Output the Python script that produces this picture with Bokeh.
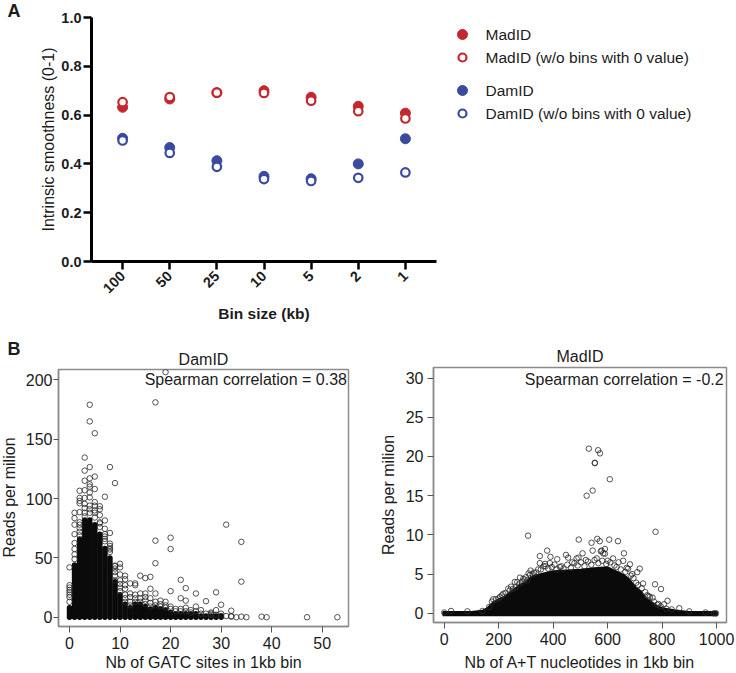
from math import pi
from bokeh.embed import file_html
from bokeh.resources import INLINE
from bokeh.layouts import column, row
from bokeh.models import FactorRange, FixedTicker, Label, Range1d, Title
from bokeh.core.properties import value
from bokeh.plotting import figure

FONT = "Liberation Sans"

# Panel A
bins = ["100", "50", "25", "10", "5", "2", "1"]
madid = [0.632, 0.666, 0.692, 0.700, 0.673, 0.636, 0.608]
madid_nz = [0.653, 0.674, 0.692, 0.691, 0.659, 0.616, 0.586]
damid = [0.505, 0.467, 0.413, 0.349, 0.339, 0.400, 0.503]
damid_nz = [0.496, 0.445, 0.388, 0.338, 0.330, 0.343, 0.365]
RED, BLUE = "#c4282e", "#3a4a9f"

# Panel B: dense columns (column, top of the solid part)
dam_col = list(range(0, 31))
dam_top = [8, 44, 66, 82, 82, 78, 70, 58, 50, 30, 19, 11, 8, 11, 11, 9, 7, 8, 7, 6,
           4, 3, 3, 3, 3, 3, 1, 1, 1, 1, 1]
# Panel B: individually readable points
dam_x = [19, 4, 4, 5, 17, 3, 3, 4, 5, 4, 3, 8, 9, 7, 4, 4, 5, 2, 3, 4, 2, 2, 3, 4, 2, 3, 4, 5, 5, 6,
         1, 1, 1, 1, 1, 1, 1, 1, 2, 2, 2, 6, 6, 6, 6, 7, 7, 7, 7, 8, 8, 8, 8, 0, 0, 0, 0, 0, 0, 0, 0,
         9, 10, 10, 11, 11, 10, 9, 9, 9, 12, 13, 13, 14, 15, 16, 16, 17, 17, 20, 20, 20, 31, 34, 34,
         22, 23, 25, 22, 23, 27, 29, 30, 32, 32, 33, 34, 35, 38, 39, 47, 53, 29,
         2, 2, 2, 3, 3, 3, 4, 4, 5, 5, 5, 6, 7, 7, 8, 8, 9, 9, 10, 10, 10, 10, 11, 11, 11, 11, 11,
         12, 12, 12, 12, 13, 13, 13, 14, 14, 14, 15, 15, 15, 15, 16, 16, 16, 17, 17, 17, 18, 18, 18,
         19, 19, 19, 20, 20, 21, 21, 22, 22, 23, 23, 24, 24, 25, 25, 26, 26, 27, 28, 28, 28, 29, 30, 30, 31, 32]
dam_y = [206.5, 179, 165, 155, 181, 134.5, 123.5, 126.5, 118.5, 117, 115, 126.5, 113, 101.5, 112,
         110, 108, 106.5, 107, 105, 100.5, 98, 100.5, 101, 96, 95.5, 94, 97, 94, 93.5,
         88, 83.5, 78, 70, 62.5, 57.5, 53, 49, 88.5, 80, 75, 91, 86, 79, 76, 81.5, 74.5, 70, 66, 71,
         60, 57, 55, 42, 27, 25, 23, 21, 19, 17, 13, 43.5, 45, 42, 35, 32, 36, 35, 31, 43, 28.5, 28.5, 27,
         35, 33, 34, 24, 45.5, 64.5, 67, 57.5, 22, 78, 63.5, 30, 31.5, 24.5, 20, 16, 14, 13.5, 21, 10.5,
         5.5, 0.5, 0, 0.5, 0, 0.5, 0, 0, 0, 2,
         72, 69, 78, 88, 85, 92, 88, 91, 88, 84, 90, 80, 64, 68, 62, 58, 38, 41, 22, 25, 28, 31, 13, 16, 19, 24, 27,
         10, 13, 17, 20, 13, 16, 19, 13, 16, 20, 11, 14, 17, 20, 9, 12, 16, 10, 13, 20, 9, 11, 14,
         8, 10, 13, 7, 9, 5, 7, 5, 7, 5, 8, 4, 6, 5, 9, 3, 6, 3, 2, 3, 4, 6, 3, 1, 1, 1]

# Panel C: envelope of the solid mass
mad_ex = [-6, 100, 140, 160, 180, 200, 220, 250, 280, 300, 320, 350, 400, 450, 500, 550, 600,
          630, 660, 680, 700, 720, 740, 760, 780, 800, 850, 900, 1004]
mad_ey = [0.1, 0.1, 0.25, 0.6, 1.3, 1.7, 2.0, 2.8, 3.6, 3.9, 4.6, 4.9, 5.3, 5.4, 5.5, 5.7, 5.8,
          5.3, 4.8, 4.2, 3.3, 2.8, 1.8, 1.4, 0.9, 0.6, 0.3, 0.1, 0.1]
# Panel C: individually readable points
mad_x = [531, 565, 572, 553, 553, 608, 545, 523, 308, 776, 494, 562, 571, 606, 638, 541, 378, 351,
         390, 415, 447, 455, 508, 486, 493, 545, 578, 590, 584, 660, 657, 682, 718, 709, 774, 796,
         820, 786, 807, 863, 278, 259, 317, 180, 200, 351, 370, 388, 235, 217, 330, 345, 365, 405,
         430, 470, 520, 560, 600, 620, 640, 670, 690, 730, 750, 765, 245, 268, 290, 300, 310,
         0, 25, 85, 140, 990, 998, 900, 960, 575, 590,
         165, 175, 190, 205, 212, 225, 240, 252, 262, 275, 285, 295, 305, 315, 325, 338, 355, 372, 382,
         395, 412, 425, 438, 452, 465, 478, 490, 502, 515, 528, 540, 552, 566, 580, 595, 610, 625, 633,
         648, 665, 675, 685, 695, 705, 712, 725, 738, 745, 755, 770, 782, 795, 815, 835]
mad_y = [21, 20.8, 20.4, 19.15, 19.2, 17.1, 15.65, 15, 9.9, 10.4, 9.4, 9.5, 9.2, 9.4, 9.2, 9, 8, 7.3,
         7.2, 6.9, 7.45, 7.1, 7.65, 7, 7.1, 8, 8, 8.2, 7.65, 7.65, 6.7, 6.25, 5.7, 5.25, 3.7, 3.1,
         1.6, 1.2, 1.15, 0.65, 4.55, 4, 5.45, 1.8, 1.9, 6.4, 6.3, 6.4, 3.15, 2.5, 5.2, 5.6, 6.0, 6.2,
         6.0, 6.5, 6.8, 7.0, 6.7, 7.0, 6.5, 5.8, 5.0, 3.8, 2.2, 2.0, 3.4, 4.0, 4.4, 4.6, 5.1,
         0.1, 0.3, 0.25, 0.3, 0, 0, 0.25, 0.1, 7.9, 7.6,
         0.8, 1.5, 1.8, 2.1, 2.3, 2.6, 2.9, 3.1, 3.3, 3.7, 4.0, 4.3, 4.2, 4.9, 5.0, 5.2, 5.6, 6.0, 5.7,
         5.9, 5.6, 5.9, 5.7, 6.2, 5.8, 6.4, 6.1, 6.5, 6.0, 6.6, 6.2, 6.8, 6.4, 6.7, 6.3, 6.5, 6.1, 5.9,
         5.6, 5.3, 5.7, 4.8, 4.5, 3.9, 3.6, 3.2, 2.7, 2.3, 2.1, 1.5, 1.1, 0.9, 0.6, 0.5]

# Legend texts
legend_labels = ["MadID", "MadID (w/o bins with 0 value)", "DamID", "DamID (w/o bins with 0 value)"]

TXT = "#1c1c1c"
GREY = "#8c8c8c"
TOP_H = 335
STRIP_A_W = 30
STRIP_B_W = 21


def side_title(p, s, place, size, bold=False, align="center", offset=0, standoff=0):
    p.add_layout(Title(text=s, align=align, offset=offset, standoff=standoff, text_font=FONT,
                       text_font_size=size, text_color=TXT,
                       text_font_style="bold" if bold else "normal"), place)


def strip(w, h, x0=0, y0=0):
    """An axis-less figure whose data range is its own pixel grid."""
    s = figure(width=w, height=h, output_backend="svg", toolbar_location=None,
               x_range=Range1d(x0, x0 + w), y_range=Range1d(y0 + h, y0),
               min_border_left=0, min_border_right=0, min_border_top=0, min_border_bottom=0)
    s.axis.visible = False
    s.grid.visible = False
    s.outline_line_color = None
    return s


# ---------- Panel letter A ----------
sa = strip(STRIP_A_W, TOP_H)
sa.text([7], [10], text=["A"], text_font=value(FONT), text_font_size="18px", text_font_style="bold",
        text_color=TXT, text_baseline="middle")

# ---------- Panel A ----------
pa = figure(width=440 - STRIP_A_W, height=TOP_H, output_backend="svg", toolbar_location=None,
            x_range=FactorRange(factors=bins, range_padding=0.0457),
            y_range=Range1d(0, 1),
            min_border_left=91 - STRIP_A_W, min_border_right=4, min_border_top=17, min_border_bottom=TOP_H - 261)
pa.outline_line_color = None
pa.grid.visible = False
pa.scatter(bins, madid, size=10, marker="circle", color=RED)
pa.scatter(bins, damid, size=10, marker="circle", color=BLUE)
pa.scatter(bins, madid_nz, size=8.5, marker="circle", fill_color="white", line_color=RED, line_width=2.2)
pa.scatter(bins, damid_nz, size=8.5, marker="circle", fill_color="white", line_color=BLUE, line_width=2.2)
for ax in (pa.xaxis[0], pa.yaxis[0]):
    ax.axis_line_width = 3
    ax.axis_line_color = "black"
    ax.major_tick_line_width = 2.5
    ax.major_tick_line_color = "black"
    ax.major_tick_out = 8
    ax.major_tick_in = 0
    ax.minor_tick_line_color = None
    ax.major_label_text_font = FONT
    ax.major_label_text_font_size = "14.5px"
    ax.major_label_text_font_style = "bold"
    ax.major_label_text_color = TXT
pa.yaxis[0].ticker = FixedTicker(ticks=[0, 0.2, 0.4, 0.6, 0.8, 1.0])
pa.yaxis[0].major_label_overrides = {0: "0.0", 1: "1.0"}
pa.yaxis[0].major_label_standoff = 2
pa.xaxis[0].major_label_orientation = pi / 4
pa.xaxis[0].major_label_standoff = 4
pa.xaxis[0].axis_label = "Bin size (kb)"
pa.xaxis[0].axis_label_text_font = FONT
pa.xaxis[0].axis_label_text_font_size = "15.5px"
pa.xaxis[0].axis_label_text_font_style = "bold"
pa.xaxis[0].axis_label_text_color = TXT
pa.xaxis[0].axis_label_standoff = 4
side_title(pa, "Intrinsic smoothness (0-1)", "left", "16px", offset=9, standoff=4)

# ---------- Legend area (drawn on a pixel-sized range) ----------
leg = figure(width=296, height=TOP_H, output_backend="svg", toolbar_location=None,
             x_range=Range1d(440, 736), y_range=Range1d(261, 17),
             min_border_left=0, min_border_right=0, min_border_top=17, min_border_bottom=TOP_H - 261)
leg.axis.visible = False
leg.grid.visible = False
leg.outline_line_color = None
leg_col_x = [462, 462, 462, 462]
leg_row_y = [34, 57, 90, 113]
leg.scatter(leg_col_x[0::2], leg_row_y[0::2], size=10, marker="circle", color=[RED, BLUE])
leg.scatter(leg_col_x[1::2], leg_row_y[1::2], size=8, marker="circle", fill_color="white",
            line_color=[RED, BLUE], line_width=2.2)
leg.text([485] * 4, leg_row_y, text=legend_labels, text_font=value(FONT), text_font_size="15.5px",
         text_color=TXT, text_baseline="middle")


def style_r(p):
    p.grid.visible = False
    p.outline_line_color = GREY
    p.outline_line_width = 1.5
    for ax in (p.xaxis[0], p.yaxis[0]):
        ax.axis_line_color = GREY
        ax.axis_line_width = 1.5
        ax.major_tick_line_color = "#555555"
        ax.major_tick_out = 6
        ax.major_tick_in = 0
        ax.minor_tick_line_color = None
        ax.major_label_text_font = FONT
        ax.major_label_text_font_size = "16px"
        ax.major_label_text_color = TXT
        ax.major_label_standoff = 4
        ax.axis_label_text_font = FONT
        ax.axis_label_text_font_size = "16px"
        ax.axis_label_text_font_style = "normal"
        ax.axis_label_text_color = TXT
    p.title.text_font = FONT
    p.title.text_font_size = "16px"
    p.title.text_font_style = "normal"
    p.title.text_color = TXT
    p.title.align = "center"
    p.title.standoff = 4


# ---------- Panel letter B and the left panel's y label ----------
sb = strip(STRIP_B_W, 673 - TOP_H, 0, TOP_H)
sb.text([7], [348], text=["B"], text_font=value(FONT), text_font_size="18px", text_font_style="bold",
        text_color=TXT, text_baseline="middle")
sb.text([9], [497], text=["Reads per milion"], text_font=value(FONT), text_font_size="16px", angle=pi / 2,
        text_color=TXT, text_align="center", text_baseline="middle")

# ---------- Panel B left ----------
pb = figure(width=366 - STRIP_B_W, height=673 - TOP_H, output_backend="svg", toolbar_location=None, title="DamID",
            x_range=Range1d(-2.18, 55.2), y_range=Range1d(-7.8, 208.7),
            min_border_left=58 - STRIP_B_W, min_border_right=18, min_border_top=369 - TOP_H, min_border_bottom=47)
style_r(pb)
pb.title.offset = -9
pb.yaxis[0].major_label_standoff = 1
pb.yaxis[0].major_tick_out = 5
pb.segment(dam_col, [0] * len(dam_col), dam_col, dam_top, line_color="#0a0a0a", line_width=5.5, line_cap="round")
pb.scatter(dam_x, dam_y, size=5.5, marker="circle", fill_color=None, line_color="#2a2a2a", line_alpha=0.8, line_width=1)
pb.xaxis[0].ticker = FixedTicker(ticks=[0, 10, 20, 30, 40, 50])
pb.yaxis[0].ticker = FixedTicker(ticks=[0, 50, 100, 150, 200])
pb.add_layout(Label(x=54.9, y=200, text="Spearman correlation = 0.38", text_font=FONT, text_font_size="16px",
                    text_color=TXT, text_align="right", text_baseline="middle"))
side_title(pb, "Nb of GATC sites in 1kb bin", "below", "16px", offset=10, standoff=0)

# ---------- Panel B right ----------
pc = figure(width=370, height=673 - TOP_H, output_backend="svg", toolbar_location=None, title="MadID",
            x_range=Range1d(-39.4, 1036.5), y_range=Range1d(-1.17, 31.35),
            min_border_left=67, min_border_right=10, min_border_top=367 - TOP_H, min_border_bottom=49)
style_r(pc)
pc.title.offset = 4
pc.title.standoff = 5
pc.varea(mad_ex, [-0.25] * len(mad_ex), mad_ey, fill_color="#0a0a0a")
pc.line(mad_ex, mad_ey, line_color="#0a0a0a", line_width=3)
pc.line(mad_ex, [-0.12] * len(mad_ex), line_color="#0a0a0a", line_width=4)
pc.scatter(mad_x, mad_y, size=5.5, marker="circle", fill_color=None, line_color="#2a2a2a", line_alpha=0.8, line_width=1)
pc.xaxis[0].ticker = FixedTicker(ticks=[0, 200, 400, 600, 800, 1000])
pc.yaxis[0].ticker = FixedTicker(ticks=[0, 5, 10, 15, 20, 25, 30])
pc.yaxis[0].axis_label = "Reads per milion"
pc.yaxis[0].axis_label_standoff = 6
pc.xaxis[0].axis_label = "Nb of A+T nucleotides in 1kb bin"
pc.xaxis[0].axis_label_standoff = 6
pc.add_layout(Label(x=1026, y=29.8, text="Spearman correlation = -0.2", text_font=FONT, text_font_size="16px",
                    text_color=TXT, text_align="right", text_baseline="middle"))

layout = column(row(column(sa), pa, leg, spacing=0), row(column(sb), pb, column(pc), spacing=0), spacing=0)
open("out.html", "w").write(file_html(layout, INLINE))
